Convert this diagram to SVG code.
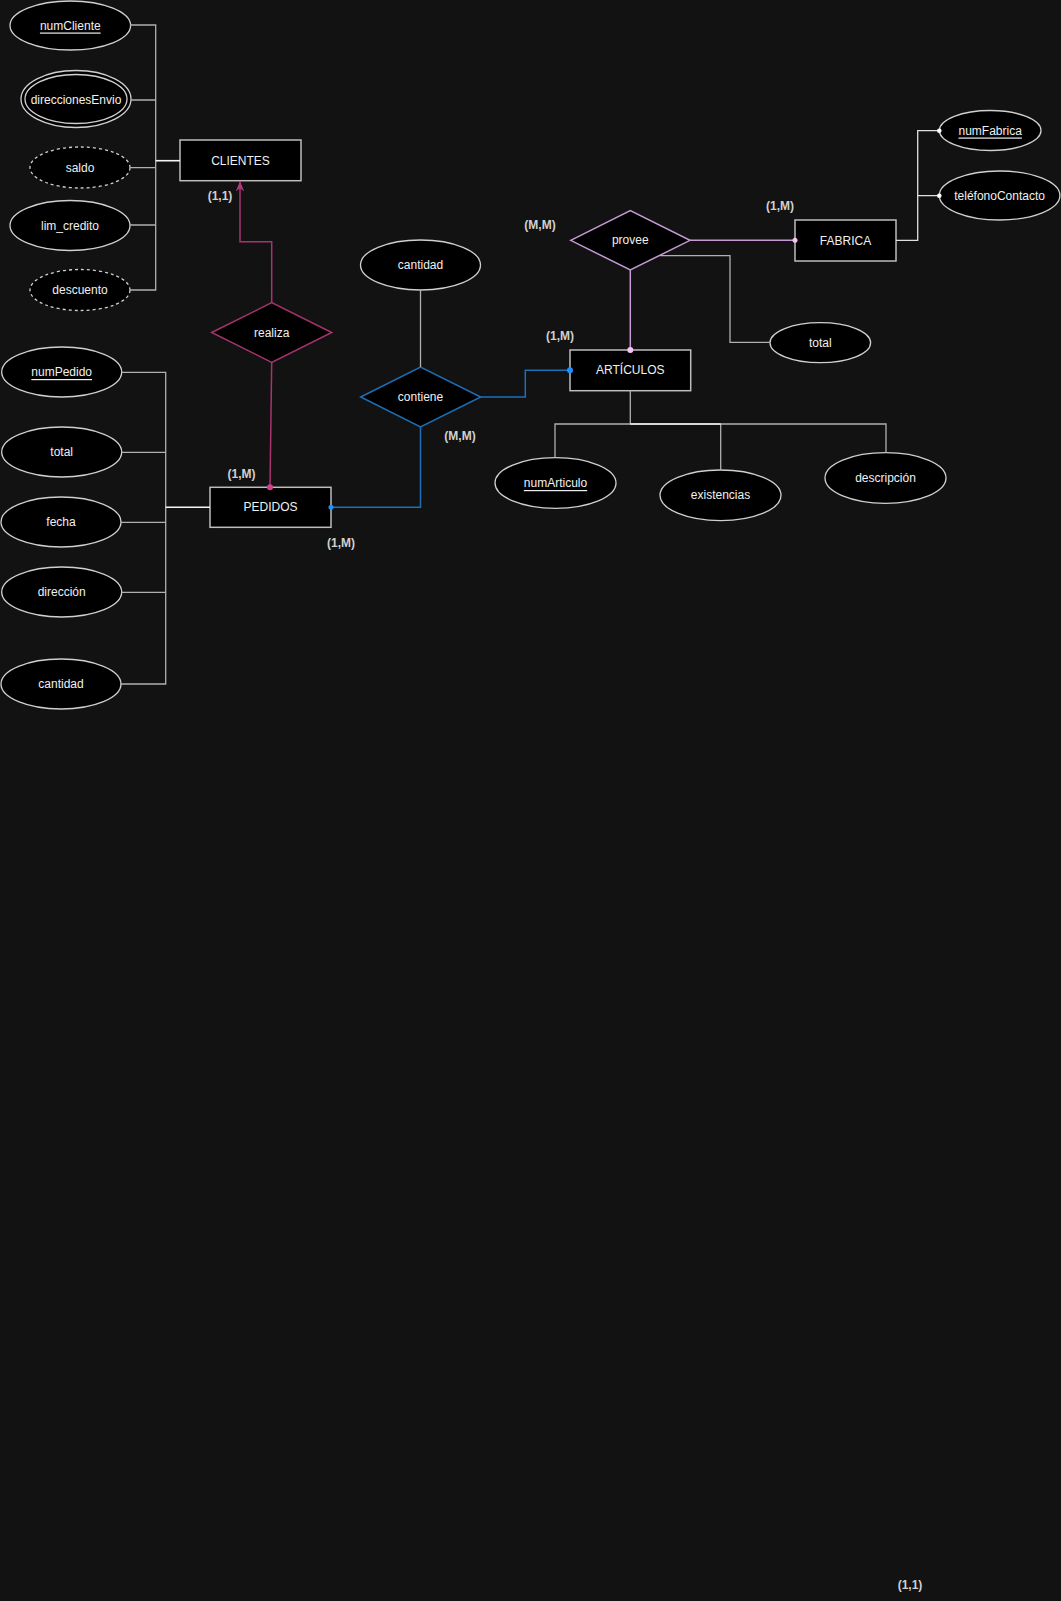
<svg xmlns="http://www.w3.org/2000/svg" width="1061" height="1601" viewBox="0 0 1061 1601">
<defs>
<style>
.bg{fill:#121212}
.attr{fill:#000;stroke:#d0d0d0;stroke-width:1.3}
.dash{fill:#000;stroke:#d0d0d0;stroke-width:1.3;stroke-dasharray:3 3}
.ent{fill:#000;stroke:#bdbdbd;stroke-width:1.5}
.t{font-family:"Liberation Sans",Arial,sans-serif;font-size:12px;fill:#f0f0f0;text-anchor:middle;dominant-baseline:central}
.u{text-decoration:underline}
.card{font-family:"Liberation Sans",Arial,sans-serif;font-size:12px;fill:#d0d0d0;text-anchor:middle;dominant-baseline:central;font-weight:bold}
.ln{fill:none;stroke:#b0b0b0;stroke-width:1.3}
.lnw{fill:none;stroke:#f5f5f5;stroke-width:1.6}
.pk{fill:none;stroke:#a8336f;stroke-width:1.5}
.bl{fill:none;stroke:#1d6fb8;stroke-width:1.5}
.lv{fill:none;stroke:#c79ad6;stroke-width:1.5}
</style>
<marker id="arrPk" viewBox="0 0 10 10" refX="9" refY="5" markerWidth="7" markerHeight="7" orient="auto"><path d="M0,1 L10,5 L0,9 L3,5 Z" fill="#b03a7a"/></marker>
</defs>
<rect class="bg" x="0" y="0" width="1061" height="1601"/>

<g id="CLIENTES"><rect class="ent" x="180" y="140" width="121" height="40.7"/><text class="t" x="240.5" y="160.5">CLIENTES</text></g>
<g id="numCliente"><ellipse class="attr" cx="70.3" cy="25.5" rx="60.3" ry="24.5"/><text class="t u" x="70.3" y="25.5">numCliente</text></g>
<g id="direccionesEnvio"><ellipse class="attr" cx="76" cy="99" rx="55" ry="28.5"/><ellipse fill="none" stroke="#d0d0d0" stroke-width="1.3" cx="76" cy="99" rx="51" ry="24.5"/><text class="t" x="76" y="100">direccionesEnvio</text></g>
<g id="saldo"><ellipse class="dash" cx="80" cy="167.5" rx="50" ry="20.5"/><text class="t" x="80" y="167.5">saldo</text></g>
<g id="lim_credito"><ellipse class="attr" cx="70" cy="225.5" rx="60" ry="25"/><text class="t" x="70" y="225.5">lim_credito</text></g>
<g id="descuento"><ellipse class="dash" cx="80" cy="290" rx="50" ry="20.5"/><text class="t" x="80" y="290">descuento</text></g>

<g id="realiza"><polygon points="211.7,332.5 271.7,302.7 331.7,332.5 271.7,362.3" fill="#000" stroke="#a8336f" stroke-width="1.5"/><text class="t" x="271.7" y="332.5">realiza</text></g>

<g id="PEDIDOS"><rect class="ent" x="210" y="487.3" width="121" height="40"/><text class="t" x="270.5" y="507.3">PEDIDOS</text></g>
<g id="numPedido"><ellipse class="attr" cx="61.7" cy="372" rx="60" ry="25"/><text class="t u" x="61.7" y="372">numPedido</text></g>
<g id="totalP"><ellipse class="attr" cx="61.7" cy="452" rx="60" ry="25"/><text class="t" x="61.7" y="452">total</text></g>
<g id="fecha"><ellipse class="attr" cx="61" cy="522" rx="60" ry="25"/><text class="t" x="61" y="522">fecha</text></g>
<g id="direccion"><ellipse class="attr" cx="61.7" cy="592" rx="60" ry="25"/><text class="t" x="61.7" y="592">dirección</text></g>
<g id="cantidadP"><ellipse class="attr" cx="61" cy="684" rx="60" ry="25"/><text class="t" x="61" y="684">cantidad</text></g>

<g id="cantidadC"><ellipse class="attr" cx="420.5" cy="265" rx="60" ry="25"/><text class="t" x="420.5" y="265">cantidad</text></g>
<g id="contiene"><polygon points="360.7,397 420.5,367 480.7,397 420.5,427" fill="#000" stroke="#1d6fb8" stroke-width="1.5"/><text class="t" x="420.5" y="397">contiene</text></g>

<g id="provee"><polygon points="570.7,240.3 630.3,210.7 690,240.3 630.3,270" fill="#000" stroke="#c79ad6" stroke-width="1.5"/><text class="t" x="630.3" y="240.3">provee</text></g>
<g id="ARTICULOS"><rect class="ent" x="570" y="350" width="120.7" height="40.7"/><text class="t" x="630.3" y="370.3">ARTÍCULOS</text></g>
<g id="totalA"><ellipse class="attr" cx="820.3" cy="342.7" rx="50.3" ry="20"/><text class="t" x="820.3" y="342.7">total</text></g>
<g id="numArticulo"><ellipse class="attr" cx="555.5" cy="483" rx="60.5" ry="25.3"/><text class="t u" x="555.5" y="483">numArticulo</text></g>
<g id="existencias"><ellipse class="attr" cx="720.5" cy="495.3" rx="60.5" ry="25.3"/><text class="t" x="720.5" y="495.3">existencias</text></g>
<g id="descripcion"><ellipse class="attr" cx="885.5" cy="478" rx="60.5" ry="25.3"/><text class="t" x="885.5" y="478">descripción</text></g>

<g id="FABRICA"><rect class="ent" x="795" y="220" width="101" height="41"/><text class="t" x="845.5" y="240.5">FABRICA</text></g>
<g id="numFabrica"><ellipse class="attr" cx="990.2" cy="130.5" rx="50.8" ry="20"/><text class="t u" x="990.2" y="130.5">numFabrica</text></g>
<g id="telefonoContacto"><ellipse class="attr" cx="999.6" cy="195.5" rx="60.3" ry="24.5"/><text class="t" x="999.6" y="195.5">teléfonoContacto</text></g>

<g id="connectors">
  <path class="ln" d="M130,25 H155.7 V290 H130 M131,100 H155.7 M130,167.7 H155.7 M130,225 H155.7"/>
  <path class="lnw" d="M155.7,160.7 H180"/>
  <path class="ln" d="M121.7,372.3 H165.7 V684 H120 M121.7,452.3 H165.7 M120.7,522.3 H165.7 M121.7,592.3 H165.7"/>
  <path class="lnw" d="M165.7,507.3 H210"/>
  <path class="pk" d="M271.7,302.7 V241.7 H240 V182" marker-end="url(#arrPk)"/>
  <path class="pk" d="M271.7,362.3 L270,487.3"/>
  <circle cx="270" cy="487.3" r="3" fill="#d0408c"/>
  <path class="ln" d="M420.5,290 V367"/>
  <path class="bl" d="M480.7,397 H525.3 V370.3 H570"/>
  <circle cx="570" cy="370.3" r="3" fill="#1e90ff"/>
  <path class="bl" d="M420.5,427 V507.3 H331"/>
  <circle cx="331" cy="507.3" r="2.5" fill="#1e90ff"/>
  <path class="lv" d="M630.3,270 V350"/>
  <circle cx="630.3" cy="350" r="3" fill="#f4c4f4"/>
  <path class="lv" d="M690,240.3 H795"/>
  <circle cx="795" cy="240.3" r="2.5" fill="#f4c4f4"/>
  <path class="ln" d="M660,255.7 H730 V342.3 H770"/>
  <path class="ln" d="M630.3,390.7 V424 M555,457.7 V424 H886 V452.7 M720.7,424 V470"/>
  <path class="lnw" d="M630.3,424 H720.7" style="stroke-width:1.3"/>
  <path class="ln" d="M896,240.3 H917.7 V130.7 H939.3 M917.7,195.7 H939.3" style="stroke:#e0e0e0"/>
  <circle cx="939.3" cy="130.7" r="2.3" fill="#fff"/>
  <circle cx="939.3" cy="195.7" r="2.3" fill="#fff"/>
</g>

<g id="labels">
<text class="card" x="220" y="196">(1,1)</text>
<text class="card" x="241.5" y="474">(1,M)</text>
<text class="card" x="341" y="542.5">(1,M)</text>
<text class="card" x="460" y="435.5">(M,M)</text>
<text class="card" x="540" y="225">(M,M)</text>
<text class="card" x="560" y="335.5">(1,M)</text>
<text class="card" x="780" y="206">(1,M)</text>
<text class="card" x="910" y="1585">(1,1)</text>
</g>
</svg>
